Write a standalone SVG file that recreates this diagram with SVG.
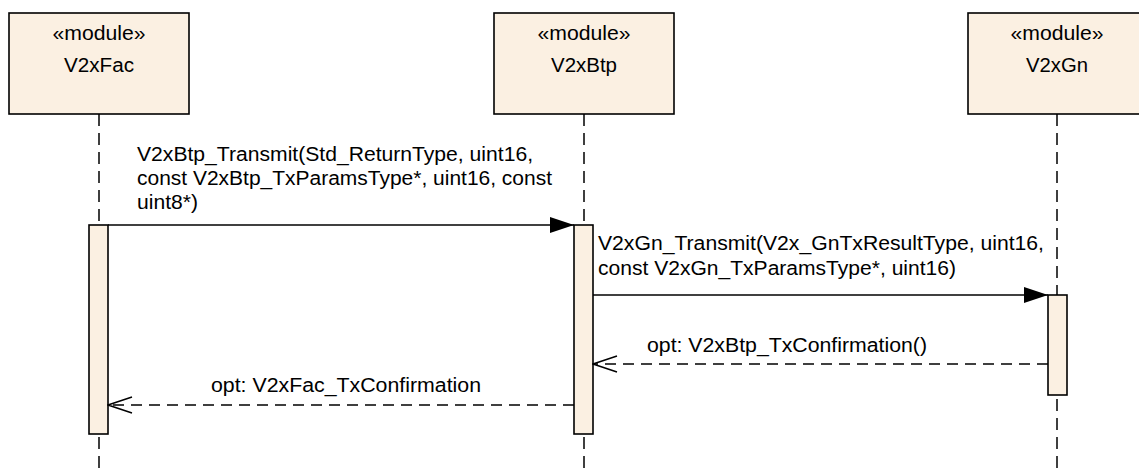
<svg xmlns="http://www.w3.org/2000/svg" width="1139" height="471" viewBox="0 0 1139 471">
<defs>
<style>
.box{fill:#FBF0E2;stroke:#000;stroke-width:1.6}
.bar{fill:#FBF0E2;stroke:#000;stroke-width:1.6}
.life{stroke:#000;stroke-width:1.5;stroke-dasharray:12 7;fill:none}
.msg{stroke:#000;stroke-width:1.6;fill:none}
.ret{stroke:#000;stroke-width:1.5;stroke-dasharray:11 7;fill:none}
text{font-family:"Liberation Sans",Arial,sans-serif;font-size:19.5px;fill:#000}
.c{text-anchor:middle}
</style>
<marker id="filled" markerUnits="userSpaceOnUse" viewBox="0 0 24 16" refX="24" refY="8" markerWidth="24" markerHeight="16" orient="auto">
<path d="M0,0 L24,8 L0,16 Z" fill="#000"/>
</marker>
<marker id="open" markerUnits="userSpaceOnUse" viewBox="0 0 26 18" refX="25" refY="9" markerWidth="26" markerHeight="18" orient="auto">
<path d="M1,1 L25,9 L1,17" fill="none" stroke="#000" stroke-width="1.5"/>
</marker>
</defs>
<rect width="1139" height="471" fill="#fff"/>
<g id="lifelines">
<line class="life" x1="99" y1="114" x2="99" y2="471"/>
<line class="life" x1="584" y1="114" x2="584" y2="471"/>
<line class="life" x1="1057" y1="114" x2="1057" y2="471"/>
</g>
<g id="V2xFac">
<rect class="box" x="9" y="13" width="180" height="101"/>
<text class="c" x="99" y="40" textLength="93" lengthAdjust="spacingAndGlyphs">«module»</text>
<text class="c" x="99" y="72" textLength="70" lengthAdjust="spacingAndGlyphs">V2xFac</text>
<rect class="bar" x="89" y="225" width="19" height="209"/>
</g>
<g id="V2xBtp">
<rect class="box" x="494" y="13" width="180" height="101"/>
<text class="c" x="584" y="40" textLength="93" lengthAdjust="spacingAndGlyphs">«module»</text>
<text class="c" x="584" y="72" textLength="66" lengthAdjust="spacingAndGlyphs">V2xBtp</text>
<rect class="bar" x="574" y="225" width="19" height="209"/>
</g>
<g id="V2xGn">
<rect class="box" x="968" y="13" width="180" height="101"/>
<text class="c" x="1057" y="40" textLength="93" lengthAdjust="spacingAndGlyphs">«module»</text>
<text class="c" x="1057" y="72" textLength="62" lengthAdjust="spacingAndGlyphs">V2xGn</text>
<rect class="bar" x="1048" y="295" width="19" height="100"/>
</g>
<g id="connectors">
<line class="msg" x1="108" y1="225" x2="574" y2="225" marker-end="url(#filled)"/>
<text x="137" y="161" textLength="396" lengthAdjust="spacingAndGlyphs">V2xBtp_Transmit(Std_ReturnType, uint16,</text>
<text x="137" y="185" textLength="415" lengthAdjust="spacingAndGlyphs">const V2xBtp_TxParamsType*, uint16, const</text>
<text x="137" y="209" textLength="61" lengthAdjust="spacingAndGlyphs">uint8*)</text>
<line class="msg" x1="593" y1="295" x2="1048" y2="295" marker-end="url(#filled)"/>
<text x="598" y="250" textLength="446" lengthAdjust="spacingAndGlyphs">V2xGn_Transmit(V2x_GnTxResultType, uint16,</text>
<text x="598" y="275" textLength="358" lengthAdjust="spacingAndGlyphs">const V2xGn_TxParamsType*, uint16)</text>
<line class="ret" x1="1048" y1="364" x2="593" y2="364" marker-end="url(#open)"/>
<text x="647" y="352" textLength="280" lengthAdjust="spacingAndGlyphs">opt: V2xBtp_TxConfirmation()</text>
<line class="ret" x1="574" y1="405" x2="108" y2="405" marker-end="url(#open)"/>
<text x="211" y="392" textLength="270" lengthAdjust="spacingAndGlyphs">opt: V2xFac_TxConfirmation</text>
</g>
</svg>
